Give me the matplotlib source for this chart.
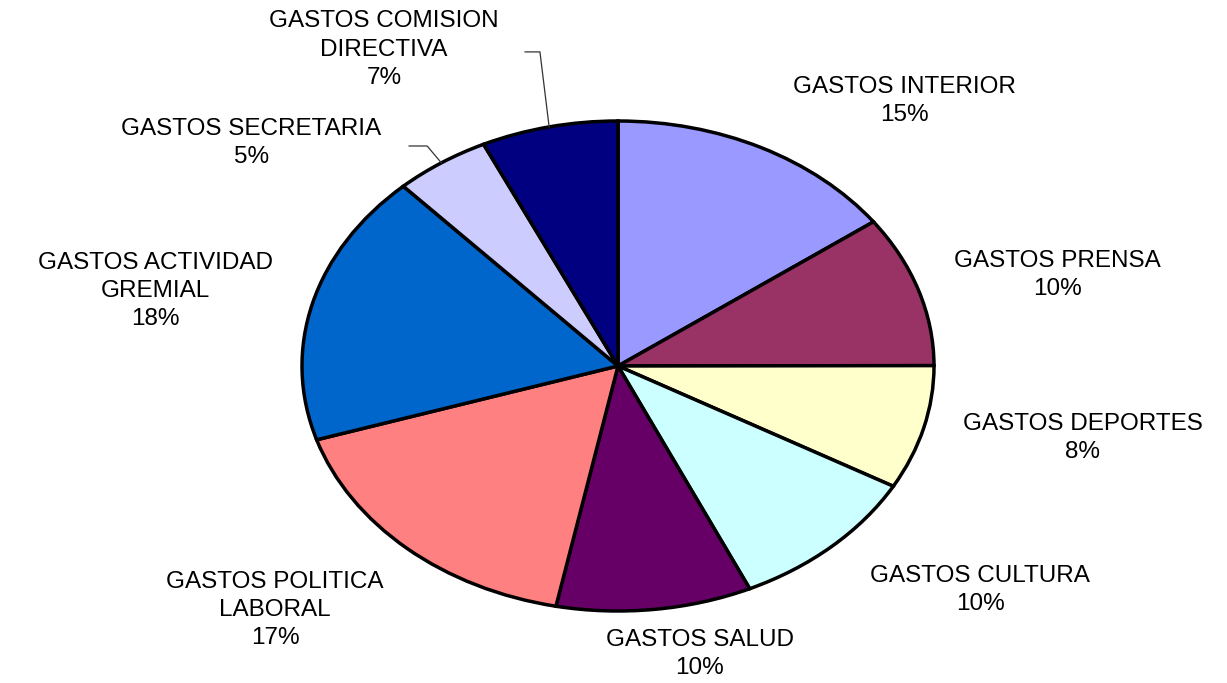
# Distribucion de gastos - grafico de torta estilo Excel

import numpy as np
import matplotlib
matplotlib.use('Agg')
import matplotlib.pyplot as plt

categorias = ['GASTOS INTERIOR', 'GASTOS PRENSA', 'GASTOS DEPORTES',
              'GASTOS CULTURA', 'GASTOS SALUD', 'GASTOS POLITICA\nLABORAL',
              'GASTOS ACTIVIDAD\nGREMIAL', 'GASTOS SECRETARIA',
              'GASTOS COMISION\nDIRECTIVA']
valores = [15, 10, 8.2, 10, 10, 17, 18, 4.9, 7]
colores = ['#9999FF', '#993366', '#FFFFCC', '#CCFFFF', '#660066',
           '#FF8080', '#0066CC', '#CCCCFF', '#000080']

# posicion de las etiquetas (coordenadas del eje, radio = 1)
pos_etiquetas = [(0.908, 1.082), (1.392, 0.371), (1.471, -0.294),
                 (1.146, -0.914), (0.259, -1.176), (-1.085, -0.996),
                 (-1.465, 0.306), (-1.161, 0.910), (-0.741, 1.290)]
# lineas guia: indice de la porcion -> codo y extremo
guias = {7: [(-0.604, 0.898), (-0.661, 0.898)],
         8: [(-0.247, 1.282), (-0.294, 1.282)]}

plt.rcParams['font.family'] = ['Liberation Sans', 'DejaVu Sans']

fig = plt.figure(figsize=(12.27, 6.83), dpi=100)
ax = fig.add_axes([302 / 1227, 72 / 683, 632 / 1227, 490 / 683])

ax.pie(valores, colors=colores, startangle=90, counterclock=False,
       wedgeprops=dict(edgecolor='black', linewidth=2.5))
ax.set_aspect('auto')
ax.set_xlim(-1, 1)
ax.set_ylim(-1, 1)

total = sum(valores)
acum = 0
for i, (cat, v) in enumerate(zip(categorias, valores)):
    pct = int(round(v / total * 100))
    x, y = pos_etiquetas[i]
    ax.text(x, y, f'{cat}\n{pct}%', ha='center', va='center',
            multialignment='center', fontsize=17.5, linespacing=1.38,
            clip_on=False)
    mid = np.deg2rad(90 - (acum + v / 2) / total * 360)
    if i in guias:
        pts = [(np.cos(mid), np.sin(mid))] + guias[i]
        xs, ys = zip(*pts)
        ax.plot(xs, ys, color='#333333', lw=0.9, clip_on=False)
    acum += v

fig.savefig('out.png', dpi=100)
